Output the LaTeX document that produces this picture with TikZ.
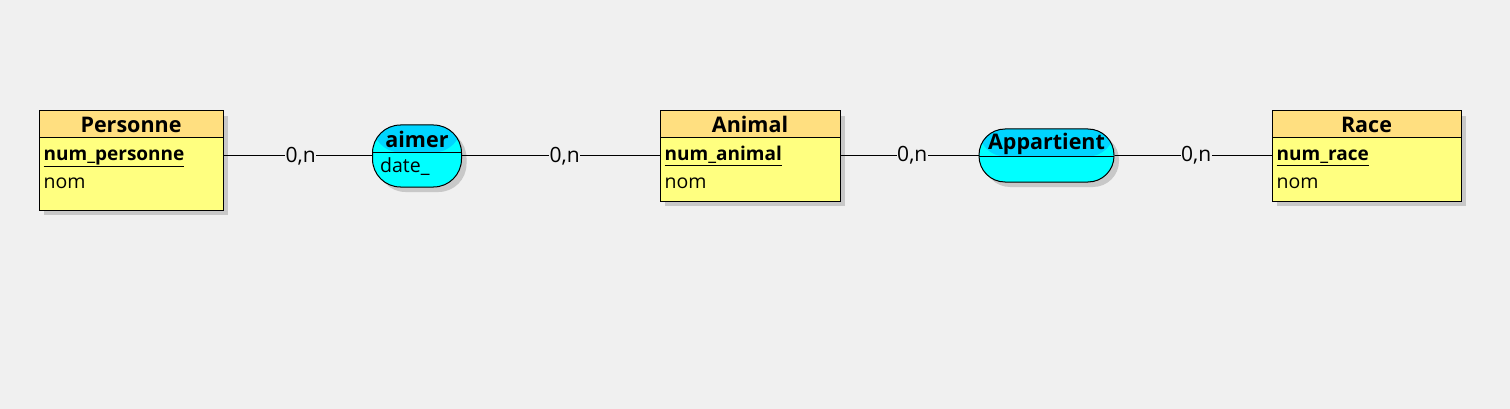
\documentclass[tikz,border=0pt]{standalone}
\usepackage{fontspec}
\setmainfont{Open Sans}
\usepackage{xcolor}
\usetikzlibrary{shadows}

\definecolor{fond}{HTML}{F0F0F0}
\definecolor{entete}{HTML}{FFDF80}
\definecolor{corps}{HTML}{FFFF80}
\definecolor{assoctete}{HTML}{00D5FF}
\definecolor{assoccorps}{HTML}{00FFFF}
\definecolor{ombre}{HTML}{C8C8C8}

\tikzset{
  entite/.style={draw, fill=corps, line width=1pt, inner sep=0pt,
    drop shadow={shadow xshift=5pt, shadow yshift=-5pt, fill=ombre, opacity=1},
    path picture={
      \fill[entete] (path picture bounding box.north west) rectangle ([yshift=-27pt]path picture bounding box.north east);
      \draw[line width=1pt] ([yshift=-27pt]path picture bounding box.north west) -- ([yshift=-27pt]path picture bounding box.north east);
    }},
  assoc/.style={draw, fill=assoccorps, line width=1pt, inner sep=0pt, rounded corners=#1,
    drop shadow={shadow xshift=5pt, shadow yshift=-5pt, fill=ombre, opacity=1},
    path picture={
      \fill[assoctete] (path picture bounding box.north west) rectangle ([yshift=-27.5pt]path picture bounding box.north east);
      \draw[line width=1pt] ([yshift=-27.5pt]path picture bounding box.north west) -- ([yshift=-27.5pt]path picture bounding box.north east);
    }},
  titre/.style={anchor=base, inner sep=0pt, font=\fontsize{21.5}{24}\selectfont\bfseries},
  attr/.style={anchor=base west, inner sep=0pt, font=\fontsize{19.5}{22}\selectfont},
  cle/.style={attr, font=\fontsize{19}{22}\selectfont\bfseries},
  card/.style={fill=fond, inner sep=0.5pt, font=\fontsize{21}{24}\selectfont},
  lien/.style={line width=1pt}
}

\begin{document}
\begin{tikzpicture}[x=1pt, y=-1pt]
\fill[fond] (0,0) rectangle (1510,409);
\useasboundingbox (0,0) rectangle (1510,409);

% entites
\node[entite, minimum width=184pt, minimum height=99pt] (personne) at (131,160.5) {};
\node[entite, minimum width=180pt, minimum height=90pt] (animal) at (750,156) {};
\node[entite, minimum width=189pt, minimum height=90pt] (race) at (1366.5,156) {};

% associations
\node[assoc=28pt, minimum width=89pt, minimum height=62pt] (aimer) at (417,156) {};
\node[assoc=26pt, minimum width=135pt, minimum height=53pt] (appartient) at (1046.5,155.5) {};

% textes
\node[titre] (personne-t) at ([yshift=-22pt]personne.north) {Personne};
\node[cle] (personne-k) at ([xshift=5pt, yshift=-50pt]personne.north west) {\underline{num\_personne}};
\node[attr] (personne-a) at ([xshift=5pt, yshift=-78pt]personne.north west) {nom};

\node[titre] (animal-t) at ([yshift=-22pt]animal.north) {Animal};
\node[cle] (animal-k) at ([xshift=5pt, yshift=-50pt]animal.north west) {\underline{num\_animal}};
\node[attr] (animal-a) at ([xshift=5pt, yshift=-78pt]animal.north west) {nom};

\node[titre] (race-t) at ([yshift=-22pt]race.north) {Race};
\node[cle] (race-k) at ([xshift=5pt, yshift=-50pt]race.north west) {\underline{num\_race}};
\node[attr] (race-a) at ([xshift=5pt, yshift=-78pt]race.north west) {nom};

\node[titre] (aimer-t) at ([yshift=-23pt]aimer.north) {aimer};
\node[attr] (aimer-a) at ([xshift=8pt, yshift=-48pt]aimer.north west) {date\_};

\node[titre] (appartient-t) at ([yshift=-21pt]appartient.north) {Appartient};

% liens
\draw[lien] (personne.east |- aimer.west) -- node[card, pos=0.52] {0,n} (aimer.west);
\draw[lien] (aimer.east) -- node[card, pos=0.52] {0,n} (aimer.east -| animal.west);
\draw[lien] (animal.east |- appartient.west) -- node[card, pos=0.52] {0,n} (appartient.west);
\draw[lien] (appartient.east) -- node[card, pos=0.52] {0,n} (appartient.east -| race.west);
\end{tikzpicture}
\end{document}
